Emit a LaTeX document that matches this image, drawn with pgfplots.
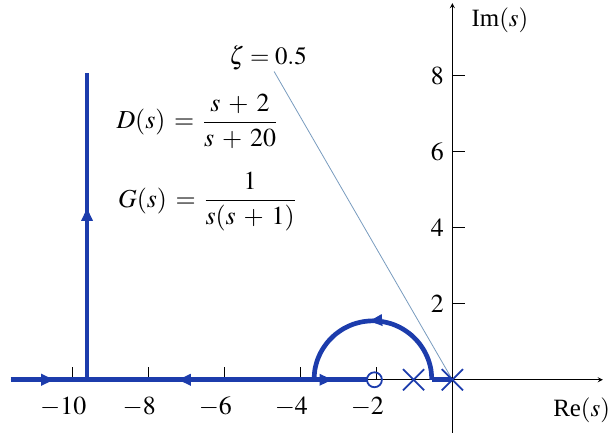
\documentclass[border=0pt]{standalone}
\usepackage{mathptmx}
\usepackage{fontspec}
\setmainfont{Liberation Serif}
\usepackage{pgfplots}
\pgfplotsset{compat=1.18}
\usetikzlibrary{arrows.meta,decorations.markings}

\definecolor{locus}{RGB}{28,60,172}
\definecolor{zetaline}{RGB}{120,155,190}

\tikzset{
  midarrow/.style={postaction={decorate},decoration={markings,
    mark=at position #1 with {\arrow{Triangle[length=13pt,width=11pt]}}}},
}
\newcommand{\eqfont}{\fontsize{26}{30}\selectfont\medmuskip=5.5mu\thickmuskip=6mu}

\begin{document}
\fontsize{25}{29}\selectfont
\begin{tikzpicture}[>={Stealth[length=11pt,width=8pt]}, font=\fontsize{25}{29}\selectfont]
\begin{axis}[
  x=38.15pt, y=38.15pt,
  axis lines=middle,
  xmin=-11.62, xmax=3.96, ymin=-1.39, ymax=9.91,
  clip=false,
  axis line style={line width=1.3pt, black},
  xtick={-10,-8,-6,-4,-2}, ytick={2,4,6,8},
  tick align=inside,
  major tick length=13pt,
  tick style={line width=1.1pt, black},
  tick label style={font=\fontsize{26}{30}\selectfont},
  xticklabel style={xshift=-9pt, yshift=-9pt},
]
% bounding frame of the figure
\path (axis cs:-11.90,-1.39) rectangle (axis cs:4.09,9.99);

% damping-ratio line
\addplot[zetaline, line width=0.8pt] coordinates {(0,0) (-4.69,8.11)};

% real-axis branches
\addplot[locus, line width=4.7pt, midarrow=0.57] coordinates {(-11.62,0) (-9.61,0)};
\addplot[locus, line width=4.7pt, midarrow=0.60] coordinates {(-3.64,0) (-9.61,0)};
\addplot[locus, line width=4.7pt, midarrow=0.35] coordinates {(-3.64,0) (-2.25,0)};
\addplot[locus, line width=4.7pt] coordinates {(-0.54,0) (0,0)};
% asymptotic branch
\addplot[locus, line width=4.7pt, midarrow=0.56] coordinates {(-9.61,0) (-9.61,8.07)};
% complex branch
\addplot[locus, line width=4.7pt, smooth, midarrow=0.52] coordinates {
  (-0.540,0) (-0.564,0.269) (-0.633,0.530) (-0.748,0.775) (-0.903,0.996)
  (-1.094,1.187) (-1.315,1.342) (-1.560,1.457) (-1.821,1.526) (-2.090,1.550)
  (-2.359,1.526) (-2.620,1.457) (-2.865,1.342) (-3.086,1.187) (-3.277,0.996)
  (-3.432,0.775) (-3.547,0.530) (-3.616,0.269) (-3.640,0)};

% poles and zero
\addplot[only marks, locus, mark=x, mark size=15pt, mark options={line width=1.8pt}]
  coordinates {(-1.02,0) (0,0)};
\addplot[only marks, locus, mark=o, mark size=7.5pt, mark options={line width=1.8pt}]
  coordinates {(-2.05,0)};

% labels
\node[anchor=base west, inner sep=0pt] at (axis cs:0.50,9.29) {Im$(s)$};
\node[anchor=base west, inner sep=0pt] at (axis cs:2.65,-0.97) {Re$(s)$};
\node[anchor=base, inner sep=0pt, font=\fontsize{25}{29}\selectfont] at (axis cs:-4.85,8.28) {$\zeta = 0.5$};
\node[anchor=west, inner sep=0pt, font=\eqfont] at (axis cs:-8.84,6.80) {$\displaystyle D(s) = \frac{s+2}{s+20}$};
\node[anchor=west, inner sep=0pt, font=\eqfont] at (axis cs:-8.80,4.68) {$\displaystyle G(s) = \frac{1}{s(s+1)}$};
\end{axis}
\end{tikzpicture}
\end{document}
